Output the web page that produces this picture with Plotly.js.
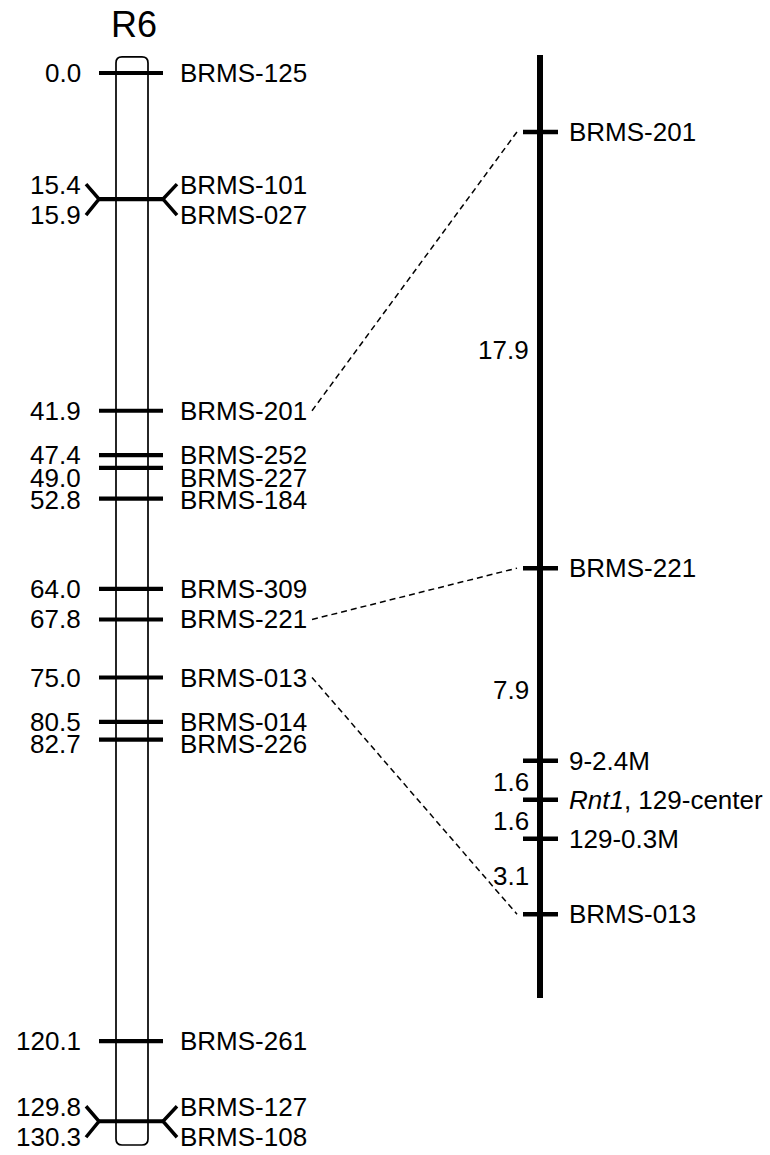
<!DOCTYPE html>
<html>
<head>
<meta charset="utf-8">
<script src="https://cdn.plot.ly/plotly-3.0.1.min.js"></script>
<style>html,body{margin:0;padding:0;background:#fff;}#chart{width:770px;height:1155px;}</style>
</head>
<body>
<div id="chart"></div>
<script>
// ---------- DATA ----------
const chromName = 'R6';
const leftNames = ['BRMS-125','BRMS-101','BRMS-027','BRMS-201','BRMS-252','BRMS-227','BRMS-184','BRMS-309','BRMS-221','BRMS-013','BRMS-014','BRMS-226','BRMS-261','BRMS-127','BRMS-108'];
const leftPos   = [0.0, 15.4, 15.9, 41.9, 47.4, 49.0, 52.8, 64.0, 67.8, 75.0, 80.5, 82.7, 120.1, 129.8, 130.3];
const rightNames = ['BRMS-201','BRMS-221','9-2.4M','<i>Rnt1</i>, 129-center','129-0.3M','BRMS-013'];
const rightIntervals = [17.9, 7.9, 1.6, 1.6, 3.1];
const links = [['BRMS-201','BRMS-201'],['BRMS-221','BRMS-221'],['BRMS-013','BRMS-013']];

// ---------- LAYOUT CONSTANTS ----------
const W = 770, H = 1155;
const Y1 = [-9.06, 134.24];          // left map axis (cM)
const Y2 = [-5.412, 41.98];          // right map axis (map units)
const pxPerCm = H / (Y1[1] - Y1[0]);
const FONT = 'Liberation Sans, Arial, Helvetica, sans-serif';
const FS = 26;
const intervalShift = [0, -26, -2, -2, 0];
const rightLineExtent = [-3.155, 35.54];

const rightPos = [0];
rightIntervals.forEach((d, i) => rightPos.push(+(rightPos[i] + d).toFixed(2)));

const shapes = [];
const ann = [];
const traces = [];

// chromosome body (rounded rectangle)
const rx0 = 116, rx1 = 148, rTop = -2.0, rBot = 133.0, rr = 6, rry = 6 / pxPerCm;
shapes.push({
  type: 'path', xref: 'x', yref: 'y', layer: 'below',
  path: `M ${rx0+rr},${rTop} L ${rx1-rr},${rTop} Q ${rx1},${rTop} ${rx1},${rTop+rry} L ${rx1},${rBot-rry} Q ${rx1},${rBot} ${rx1-rr},${rBot} L ${rx0+rr},${rBot} Q ${rx0},${rBot} ${rx0},${rBot-rry} L ${rx0},${rTop+rry} Q ${rx0},${rTop} ${rx0+rr},${rTop} Z`,
  line: {color: '#000', width: 1.7}, fillcolor: 'rgba(0,0,0,0)'
});

// left markers
const tickX = [], tickY = [], diagX = [], diagY = [];
const labelPx = new Array(leftPos.length);
let prev = -Infinity;
let i = 0;
while (i < leftPos.length) {
  if (i + 1 < leftPos.length && leftPos[i+1] - leftPos[i] < 1) {
    const m = (leftPos[i] + leftPos[i+1]) / 2;
    const mpx = m * pxPerCm;
    tickX.push(99, 163, null); tickY.push(m, m, null);
    const up = m - 15 / pxPerCm, dn = m + 16 / pxPerCm;
    diagX.push(86, 99, 86, null, 177, 163, 177, null);
    diagY.push(up, m, dn, null, up, m, dn, null);
    labelPx[i] = mpx - 14; labelPx[i+1] = mpx + 16;
    prev = labelPx[i+1];
    i += 2;
  } else {
    const p = leftPos[i];
    tickX.push(99, 163, null); tickY.push(p, p, null);
    labelPx[i] = Math.max(p * pxPerCm, prev + 22.5);
    prev = labelPx[i];
    i += 1;
  }
}
traces.push({x: tickX, y: tickY, mode: 'lines', line: {color: '#000', width: 4.2}, hoverinfo: 'skip', yaxis: 'y'});
traces.push({x: diagX, y: diagY, mode: 'lines', line: {color: '#000', width: 3.5}, hoverinfo: 'skip', yaxis: 'y'});

leftPos.forEach((p, k) => {
  const ys = -(labelPx[k] - p * pxPerCm);
  ann.push({x: 83, y: p, xref: 'x', yref: 'y', xanchor: 'right', yanchor: 'middle', yshift: ys,
    text: p.toFixed(1), showarrow: false, font: {family: FONT, size: FS, color: '#000'}});
  ann.push({x: 178, y: p, xref: 'x', yref: 'y', xanchor: 'left', yanchor: 'middle', yshift: ys,
    text: leftNames[k], showarrow: false, font: {family: FONT, size: FS, color: '#000'}});
});

// right map
traces.push({x: [540, 540], y: rightLineExtent, mode: 'lines', line: {color: '#000', width: 6}, hoverinfo: 'skip', yaxis: 'y2'});
const rtX = [], rtY = [];
rightPos.forEach((p, k) => {
  rtX.push(523, 558, null); rtY.push(p, p, null);
  ann.push({x: 567, y: p, xref: 'x', yref: 'y2', xanchor: 'left', yanchor: 'middle',
    text: rightNames[k], showarrow: false, font: {family: FONT, size: FS, color: '#000'}});
});
traces.push({x: rtX, y: rtY, mode: 'lines', line: {color: '#000', width: 4.5}, hoverinfo: 'skip', yaxis: 'y2'});
rightIntervals.forEach((d, k) => {
  const mid = (rightPos[k] + rightPos[k+1]) / 2;
  ann.push({x: 531, y: mid, xref: 'x', yref: 'y2', xanchor: 'right', yanchor: 'middle', yshift: intervalShift[k],
    text: d.toFixed(1), showarrow: false, font: {family: FONT, size: FS, color: '#000'}});
});

const layout = {
  width: W, height: H,
  margin: {l: 0, r: 0, t: 0, b: 0, pad: 0},
  paper_bgcolor: '#fff', plot_bgcolor: '#fff',
  showlegend: false,
  title: {text: chromName, x: 134 / W, xanchor: 'center', xref: 'paper', y: 1 - 24 / H, yanchor: 'middle', yref: 'container',
          font: {family: FONT, size: 36, color: '#000'}},
  xaxis: {range: [0, W], visible: false, fixedrange: true},
  yaxis: {range: [Y1[1], Y1[0]], visible: false, fixedrange: true},
  yaxis2: {range: [Y2[1], Y2[0]], visible: false, fixedrange: true, overlaying: 'y'},
  shapes: shapes,
  annotations: ann
};

Plotly.newPlot('chart', traces, layout, {staticPlot: true, displayModeBar: false}).then(gd => {
  const ya = gd._fullLayout.yaxis, yb = gd._fullLayout.yaxis2;
  const extra = links.map(([l, r]) => {
    const li = leftNames.indexOf(l), ri = rightNames.indexOf(r);
    const yRight = ya.p2l(yb.l2p(rightPos[ri]));
    return {type: 'line', xref: 'x', yref: 'y', x0: 312, x1: 517, y0: leftPos[li], y1: yRight,
            line: {color: '#000', width: 1.5, dash: '6px,4px'}};
  });
  return Plotly.relayout(gd, {shapes: shapes.concat(extra)});
});
</script>
</body>
</html>
